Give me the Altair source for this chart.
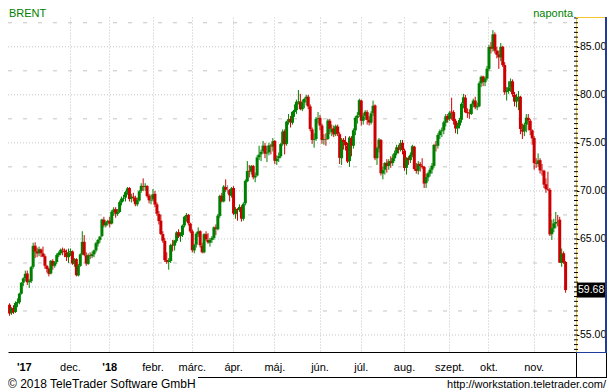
import json
import numpy as np
import pandas as pd
import altair as alt

# ---------------- data (Brent, daily OHLC, 19 Oct 2017 - 23 Nov 2018) ----------------
opens = [
    58.15, 57.30, 57.80, 57.40, 58.30, 58.40, 59.30, 60.45, 60.90,
    61.40, 60.50, 60.60, 62.10, 64.30, 63.70, 63.50, 63.90, 63.50, 63.20, 62.20, 61.90, 61.40, 62.70, 62.20, 62.60, 63.30, 63.50, 63.90, 63.80, 63.60, 63.10,
    63.60, 63.70, 62.40, 62.90, 61.20, 62.20, 63.40, 64.70, 63.30, 62.40, 63.30, 63.20, 63.40, 63.80, 64.50, 64.90, 65.30, 67.00, 66.40, 66.70,
    66.90, 66.60, 67.80, 68.10, 67.60, 67.80, 68.80, 69.20, 69.30, 69.90, 70.30, 69.20, 69.40, 69.30, 68.60, 69.00, 70.00, 70.50, 70.40, 70.50, 69.50, 69.00,
    69.10, 69.70, 68.60, 67.60, 66.90, 65.50, 64.80, 62.80, 62.60, 62.70, 64.40, 64.30, 64.80, 65.70, 65.30, 65.40, 66.40, 67.30, 67.50, 66.60,
    65.80, 63.80, 64.40, 65.50, 65.80, 64.30, 63.60, 65.50, 64.90, 64.60, 64.90, 65.10, 66.20, 66.00, 67.40, 69.50, 68.90, 70.40, 70.11, 70.10, 69.50,
    70.30, 67.60, 68.10, 68.00, 68.30, 67.10, 68.70, 71.00, 72.10, 72.00, 72.60, 71.40, 71.60, 73.50, 73.80, 74.10, 74.70, 73.90, 74.00, 74.70, 74.60,
    75.20, 73.10, 73.40, 73.60, 74.90, 76.20, 74.90, 77.20, 77.50, 77.10, 78.20, 78.40, 79.25, 79.30, 78.50, 79.20, 79.60, 79.80, 78.80, 76.40, 75.30, 75.40, 77.50,
    77.60, 76.80, 75.30, 75.40, 75.40, 77.30, 76.10, 76.50, 75.90, 76.70, 75.90, 73.40, 75.30, 75.10, 74.70, 73.10, 75.50, 74.70, 76.30, 77.60, 77.90,
    79.40, 77.30, 77.80, 78.20, 77.40, 77.10, 78.10, 78.90, 73.40, 74.40, 75.30, 71.80, 72.20, 72.90, 72.60, 73.10, 72.90, 73.40, 73.90, 74.50, 74.30, 75.00,
    74.20, 72.40, 73.40, 73.20, 73.70, 74.60, 72.30, 72.10, 72.80, 72.60, 72.50, 70.80, 71.40, 71.80, 72.20, 72.60, 74.80, 74.70, 75.80, 76.20, 76.30, 77.10, 77.80,
    77.50, 78.25, 78.20, 77.30, 76.50, 76.80, 77.40, 79.10, 79.70, 78.20, 78.10, 78.00, 79.00, 79.40, 78.70, 78.80, 81.20, 81.90, 81.30, 81.70,
    82.70, 85.00, 84.80, 86.30, 84.60, 84.20, 83.90, 85.00, 83.10, 80.30, 80.40, 80.80, 81.40, 80.00, 79.30, 79.80, 79.80, 76.40, 76.20, 76.90, 77.60, 77.30, 76.30,
    75.50, 72.90, 72.80, 73.20, 72.10, 72.10, 70.70, 70.20, 70.10, 65.50, 66.10, 66.60, 66.80, 67.00, 62.50, 63.50, 62.60,
]
highs = [
    58.30, 57.90, 58.10, 58.50, 58.80, 59.40, 60.50, 61.00, 61.70,
    61.70, 60.80, 62.20, 64.60, 64.65, 64.10, 64.20, 64.00, 64.20, 63.40, 62.30, 62.00, 62.80, 62.90, 62.70, 63.50, 63.70, 64.00, 64.10, 64.00, 63.90, 64.00,
    64.00, 63.80, 63.00, 63.00, 62.40, 63.50, 65.80, 65.40, 63.60, 63.50, 63.60, 63.70, 63.90, 64.70, 65.00, 65.30, 67.10, 67.30, 66.90, 67.00,
    67.30, 68.00, 68.30, 68.30, 68.10, 69.00, 69.40, 69.60, 70.00, 70.40, 70.40, 69.70, 69.80, 69.50, 69.30, 70.10, 70.80, 71.30, 70.80, 70.60, 69.70, 69.60,
    70.20, 70.00, 68.80, 67.90, 67.50, 65.80, 65.10, 63.60, 63.00, 64.50, 64.90, 64.90, 65.80, 66.00, 65.70, 66.50, 67.40, 67.70, 67.60, 66.70,
    66.00, 64.50, 65.70, 66.20, 65.90, 64.60, 65.60, 65.80, 65.60, 65.10, 65.30, 66.30, 66.50, 67.60, 69.60, 69.80, 70.60, 71.20, 70.60, 70.20, 70.40,
    70.50, 68.30, 68.20, 68.60, 68.50, 68.80, 71.20, 73.10, 72.70, 72.70, 72.70, 71.90, 73.70, 74.70, 74.30, 75.20, 75.00, 74.70, 75.00, 74.90, 75.50,
    75.30, 73.70, 74.00, 75.00, 76.40, 76.40, 77.30, 78.00, 77.80, 78.30, 79.00, 79.50, 80.50, 80.10, 79.50, 79.70, 80.00, 80.00, 79.00, 76.60, 76.00, 77.70, 78.20,
    77.90, 77.00, 75.90, 76.00, 77.50, 77.50, 76.90, 76.80, 76.90, 76.90, 76.10, 75.50, 75.50, 75.70, 75.00, 75.70, 75.70, 76.50, 77.80, 78.20, 79.60,
    79.50, 78.10, 78.40, 78.40, 77.80, 78.30, 79.40, 79.00, 74.60, 75.50, 75.40, 72.50, 73.00, 73.30, 73.30, 73.60, 73.80, 74.20, 74.80, 74.80, 75.30, 75.30,
    74.40, 73.50, 73.60, 74.00, 74.80, 74.70, 72.90, 73.10, 73.00, 73.40, 72.60, 71.80, 72.00, 72.40, 72.90, 74.90, 75.20, 76.00, 76.40, 76.60, 77.30, 78.00, 78.00,
    78.30, 79.70, 78.40, 77.50, 77.10, 77.60, 79.20, 80.10, 80.00, 78.60, 78.50, 79.10, 79.60, 79.80, 79.20, 81.40, 82.00, 82.00, 81.90, 83.00,
    85.20, 85.50, 86.74, 86.50, 85.00, 84.60, 85.40, 85.10, 83.40, 80.80, 81.40, 81.70, 81.60, 80.30, 80.10, 80.40, 79.90, 77.00, 77.10, 78.00, 78.00, 77.50, 76.40,
    75.70, 73.40, 73.90, 73.40, 72.80, 72.20, 71.30, 72.00, 70.30, 67.00, 67.10, 67.80, 67.50, 67.30, 64.00, 63.70, 62.70,
]
lows = [
    57.00, 57.10, 57.20, 57.30, 57.90, 58.20, 59.20, 60.10, 60.60,
    60.20, 59.90, 60.40, 61.90, 63.00, 63.10, 63.20, 63.10, 63.10, 61.90, 61.50, 61.10, 61.30, 61.80, 62.00, 62.40, 63.10, 63.30, 63.30, 63.10, 62.70, 62.50,
    63.20, 62.30, 62.10, 61.10, 61.10, 62.10, 63.30, 63.20, 62.20, 62.30, 62.90, 63.00, 63.10, 63.60, 64.20, 64.60, 65.20, 66.20, 66.20, 66.40,
    66.20, 66.50, 67.40, 67.20, 67.40, 67.70, 68.50, 68.90, 68.90, 69.60, 68.90, 68.80, 68.90, 68.40, 68.40, 68.90, 69.80, 70.00, 70.00, 69.30, 68.70, 68.60,
    68.90, 68.30, 67.40, 66.50, 65.40, 64.60, 62.60, 62.40, 61.80, 62.50, 63.70, 63.80, 64.60, 65.10, 64.70, 65.20, 66.20, 66.80, 66.40, 65.60,
    63.60, 63.50, 64.10, 65.20, 64.10, 63.50, 63.50, 64.80, 64.50, 64.20, 64.60, 64.90, 65.40, 65.90, 67.20, 68.80, 68.80, 69.90, 69.70, 68.90, 69.30,
    67.50, 67.10, 66.90, 67.80, 66.80, 66.90, 68.50, 70.90, 71.40, 71.70, 71.20, 70.90, 71.50, 73.20, 73.10, 73.90, 73.40, 73.00, 73.70, 73.80, 74.10,
    72.80, 72.70, 73.00, 73.40, 74.70, 73.80, 74.70, 76.90, 76.60, 76.90, 77.70, 78.00, 79.00, 78.40, 78.30, 78.60, 78.90, 78.50, 76.20, 74.90, 74.50, 75.20, 77.00,
    76.30, 74.90, 74.80, 74.70, 75.30, 75.90, 75.70, 75.60, 75.70, 75.70, 72.80, 72.70, 74.30, 74.20, 72.90, 72.50, 73.60, 74.40, 75.80, 77.00, 77.70,
    76.80, 76.90, 77.40, 76.90, 76.80, 76.90, 77.80, 73.20, 72.70, 74.00, 71.60, 71.20, 71.70, 71.90, 72.20, 72.40, 72.60, 73.10, 73.70, 73.90, 74.10, 73.80,
    72.10, 71.70, 72.70, 72.90, 73.50, 72.10, 71.80, 71.70, 72.00, 72.30, 70.30, 70.30, 71.00, 71.50, 71.80, 72.40, 74.10, 74.40, 75.40, 75.60, 75.90, 76.70, 77.10,
    77.30, 77.40, 76.90, 76.00, 75.90, 76.50, 77.10, 78.60, 78.10, 77.60, 77.50, 77.90, 78.70, 78.50, 78.40, 78.70, 80.80, 80.90, 80.90, 81.50,
    82.50, 84.30, 84.50, 84.30, 83.80, 82.70, 83.50, 82.90, 80.00, 79.40, 80.10, 80.30, 79.80, 78.80, 78.70, 78.40, 75.90, 75.40, 75.70, 76.10, 76.30, 75.80, 74.80,
    72.20, 72.40, 72.50, 71.80, 71.60, 70.30, 69.80, 70.00, 65.30, 64.90, 65.70, 66.10, 66.30, 62.50, 62.10, 62.40, 59.40,
]
closes = [
    57.24, 57.75, 57.37, 58.33, 58.44, 59.30, 60.44, 60.90, 61.37,
    60.49, 60.62, 62.07, 64.27, 63.69, 63.49, 63.93, 63.52, 63.16, 62.21, 61.87, 61.36, 62.72, 62.22, 62.57, 63.32, 63.55, 63.86, 63.84, 63.61, 63.11, 63.57,
    63.73, 62.45, 62.86, 61.22, 62.20, 63.40, 64.69, 63.34, 62.44, 63.31, 63.23, 63.42, 63.80, 64.56, 64.90, 65.25, 67.02, 66.44, 66.72, 66.87,
    66.57, 67.84, 68.07, 67.62, 67.78, 68.82, 69.20, 69.26, 69.87, 70.26, 69.15, 69.38, 69.31, 68.61, 69.03, 69.96, 70.53, 70.42, 70.52, 69.46, 69.02, 69.05,
    69.65, 68.58, 67.62, 66.86, 65.51, 64.81, 62.79, 62.59, 62.72, 64.36, 64.33, 64.84, 65.67, 65.25, 65.42, 66.39, 67.31, 67.50, 66.63, 65.78,
    63.83, 64.37, 65.54, 65.79, 64.34, 63.61, 65.49, 64.95, 64.64, 64.89, 65.12, 66.21, 66.05, 67.42, 69.47, 68.91, 70.45, 70.12, 70.11, 69.53, 70.27,
    67.64, 68.12, 68.02, 68.33, 67.11, 68.65, 71.04, 72.06, 72.02, 72.58, 71.42, 71.58, 73.48, 73.78, 74.06, 74.71, 73.86, 74.00, 74.74, 74.64, 75.17,
    73.13, 73.36, 73.62, 74.87, 76.17, 74.85, 77.21, 77.47, 77.12, 78.23, 78.43, 79.28, 79.30, 78.51, 79.22, 79.57, 79.80, 78.79, 76.44, 75.30, 75.39, 77.50, 77.59,
    76.79, 75.29, 75.38, 75.36, 77.32, 76.46, 76.46, 75.88, 76.74, 75.94, 73.44, 75.34, 75.08, 74.74, 73.05, 75.55, 74.73, 76.31, 77.62, 77.85, 79.44,
    77.30, 77.76, 78.24, 77.39, 77.11, 78.07, 78.86, 73.40, 74.45, 75.33, 71.84, 72.16, 72.90, 72.58, 73.07, 72.87, 73.44, 73.93, 74.54, 74.29, 74.97, 74.25,
    72.39, 73.45, 73.21, 73.75, 74.65, 72.28, 72.07, 72.81, 72.61, 72.46, 70.76, 71.43, 71.83, 72.21, 72.63, 74.78, 74.73, 75.82, 76.21, 76.31, 77.14, 77.77, 77.42,
    78.15, 78.17, 77.27, 76.50, 76.83, 77.37, 79.06, 79.74, 78.18, 78.09, 78.05, 79.03, 79.40, 78.70, 78.80, 81.20, 81.87, 81.34, 81.72, 82.72,
    84.98, 84.80, 86.29, 84.58, 84.16, 83.91, 85.00, 83.09, 80.26, 80.43, 80.78, 81.41, 80.05, 79.29, 79.78, 79.83, 76.44, 76.17, 76.89, 77.62, 77.34, 76.31, 75.47,
    72.89, 72.83, 73.17, 72.13, 72.07, 70.65, 70.18, 70.12, 65.47, 66.12, 66.62, 66.76, 66.79, 62.53, 63.48, 62.60, 59.68,
]
holidays = ["2017-12-25", "2018-01-01", "2018-03-30"]
month_names = ["dec.", "'18", "febr.", "márc.", "ápr.", "máj.", "jún.", "júl.", "aug.", "szept.", "okt.", "nov."]
year_label = "'17"
y_label_values = [55, 65, 70, 75, 80, 85]          # 60.00 sits under the last-price box
y_grid_values = [55, 60, 65, 70, 75, 80, 85]
y_mid_values = [57.5, 62.5, 67.5, 72.5, 77.5, 82.5, 87.5]
y_minor_ticks = [float(v) for v in np.arange(53.5, 88.01, 0.5)]

# ---------------- table ----------------
dates = pd.bdate_range("2017-10-19", "2018-11-23")
dates = dates[~dates.isin(pd.to_datetime(holidays))]
n = min(len(dates), len(closes), len(opens), len(highs), len(lows))
df = pd.DataFrame({
    "i": np.arange(n),
    "date": dates[:n],
    "open": opens[:n],
    "high": highs[:n],
    "low": lows[:n],
    "close": closes[:n],
})
df["dir"] = np.where(df["close"] > df["open"], "up", np.where(df["close"] < df["open"], "down", "flat"))
df["date"] = df["date"].dt.strftime("%Y-%m-%d")
months = pd.to_datetime(df["date"]).dt.to_period("M")
month_start = df.groupby(months)["i"].min().tolist()[2:]  # Dec 2017 .. Nov 2018
jan_idx = int(month_start[1])

tick_vals = [7.5] + [int(v) for v in month_start]
tick_texts = [year_label] + month_names[: len(month_start)]
x_label_expr = "{}[indexof({}, datum.value)]".format(
    json.dumps(tick_texts, ensure_ascii=False), json.dumps(tick_vals)
)

FONT = "Liberation Sans"
GREEN = "#008000"
RED = "#cc0000"
GRID = "#c4c4c4"
W, H = 568, 335          # plot area; whole svg = 599 x 382
RB = 31                  # right band width

x_scale = alt.Scale(domain=[2, 2 + W / 2], nice=False, zero=False)
y_scale = alt.Scale(domain=[53.23, 88.1], nice=False, zero=False)

x_axis = alt.Axis(
    values=tick_vals,
    labelExpr=x_label_expr,
    grid=True,
    gridColor=GRID,
    gridDash=[1, 2],
    gridOpacity={"condition": {"test": "datum.value < 9", "value": 0}, "value": 1},
    ticks=False,
    tickSize=0,
    domainColor="black",
    labelFont=FONT,
    labelFontSize=11,
    labelColor="black",
    labelPadding=9,
    labelFlush=False,
    labelOverlap=False,
    labelFontWeight={"condition": {"test": "datum.value < 9 || datum.value == %d" % jan_idx, "value": "bold"}, "value": "normal"},
    title=None,
)
y_axis = alt.Axis(
    orient="right",
    values=y_label_values,
    format=".2f",
    grid=False,
    tickColor="black",
    tickSize=3,
    domainColor="#f4c430",
    labelFont=FONT,
    labelFontSize=10.5,
    labelColor="black",
    labelPadding=0.5,
    labelOverlap=False,
    labelFlush=False,
    title=None,
)

# grid lines and minor ticks from value lists, through the y scale
grid_major = alt.Chart(pd.DataFrame({"v": y_grid_values})).mark_rule(
    color=GRID, strokeDash=[1, 2], strokeWidth=1
).encode(x=alt.value(0), x2=alt.value(W), y=alt.Y("v:Q", scale=y_scale, axis=y_axis))
grid_mid = alt.Chart(pd.DataFrame({"v": y_mid_values})).mark_rule(
    color=GRID, strokeDash=[4, 11], strokeWidth=1
).encode(x=alt.value(0), x2=alt.value(W), y="v:Q")
minor = alt.Chart(pd.DataFrame({"v": y_minor_ticks})).mark_rule(color="black", strokeWidth=1).encode(
    x=alt.value(W - 2), x2=alt.value(W + 2), y="v:Q"
)

color = alt.Color("dir:N", scale=alt.Scale(domain=["up", "down", "flat"], range=[GREEN, RED, "#808080"]), legend=None)

base = alt.Chart(df).encode(x=alt.X("i:Q", scale=x_scale, axis=x_axis))
wicks = base.mark_rule(strokeWidth=1, xOffset=0.5).encode(y="low:Q", y2="high:Q", color=color)
bodies = base.mark_bar(size=3, xOffset=0.5).encode(y="open:Q", y2="close:Q", color=color)

last = df.tail(1)
price_box = alt.Chart(last).mark_rect(color="black", height=15).encode(
    x=alt.value(W + 1), x2=alt.value(W + RB - 1), y=alt.Y("close:Q")
)
price_txt = alt.Chart(last).mark_text(color="white", align="left", baseline="middle", font=FONT, fontSize=10.5).encode(
    x=alt.value(W + 2), y=alt.Y("close:Q"), text=alt.Text("close:Q", format=".2f")
)

one = pd.DataFrame({"k": [0]})


def rule(c, sw=1, **enc):
    return alt.Chart(one).mark_rule(color=c, strokeWidth=sw).encode(**enc)


decor = [
    rule("#f4c430", x=alt.value(W), x2=alt.value(W + RB), y=alt.value(0.5)),
    rule("#1f3c9c", sw=2, x=alt.value(W + RB - 1), y=alt.value(0), y2=alt.value(H + 1)),
    rule("#1f3c9c", x=alt.value(W), x2=alt.value(W + RB), y=alt.value(H + 0.5)),
    rule("black", x=alt.value(190), x2=alt.value(W + RB), y=alt.value(H + 25.5)),
    rule("black", x=alt.value(W + 0.5), y=alt.value(H + 1), y2=alt.value(H + 26)),
    rule("black", x=alt.value(W + RB - 0.5), y=alt.value(H + 1), y2=alt.value(H + 26)),
]


def label(txt, x, y, align, size, color="black"):
    return alt.Chart(one).mark_text(
        text=txt, align=align, baseline="alphabetic", font=FONT, fontSize=size, color=color
    ).encode(x=alt.value(x), y=alt.value(y))


texts = [
    label("BRENT", 1, 0, "left", 11, GREEN),
    label("naponta", W - 3, 0, "right", 11, GREEN),
    label("© 2018 TeleTrader Software GmbH", 0, H + 36, "left", 12),
    label("http://workstation.teletrader.com/", W + RB - 1, H + 36, "right", 11),
]

chart = alt.layer(grid_major, grid_mid, minor, wicks, bodies, price_box, price_txt, *decor, *texts).properties(
    width=W,
    height=H,
    padding={"left": 0, "top": 9, "right": RB, "bottom": 38},
    autosize=alt.AutoSizeParams(type="none"),
    background="white",
).configure_view(stroke=None)

chart.save("out.html", embed_options={"renderer": "svg", "actions": False})
